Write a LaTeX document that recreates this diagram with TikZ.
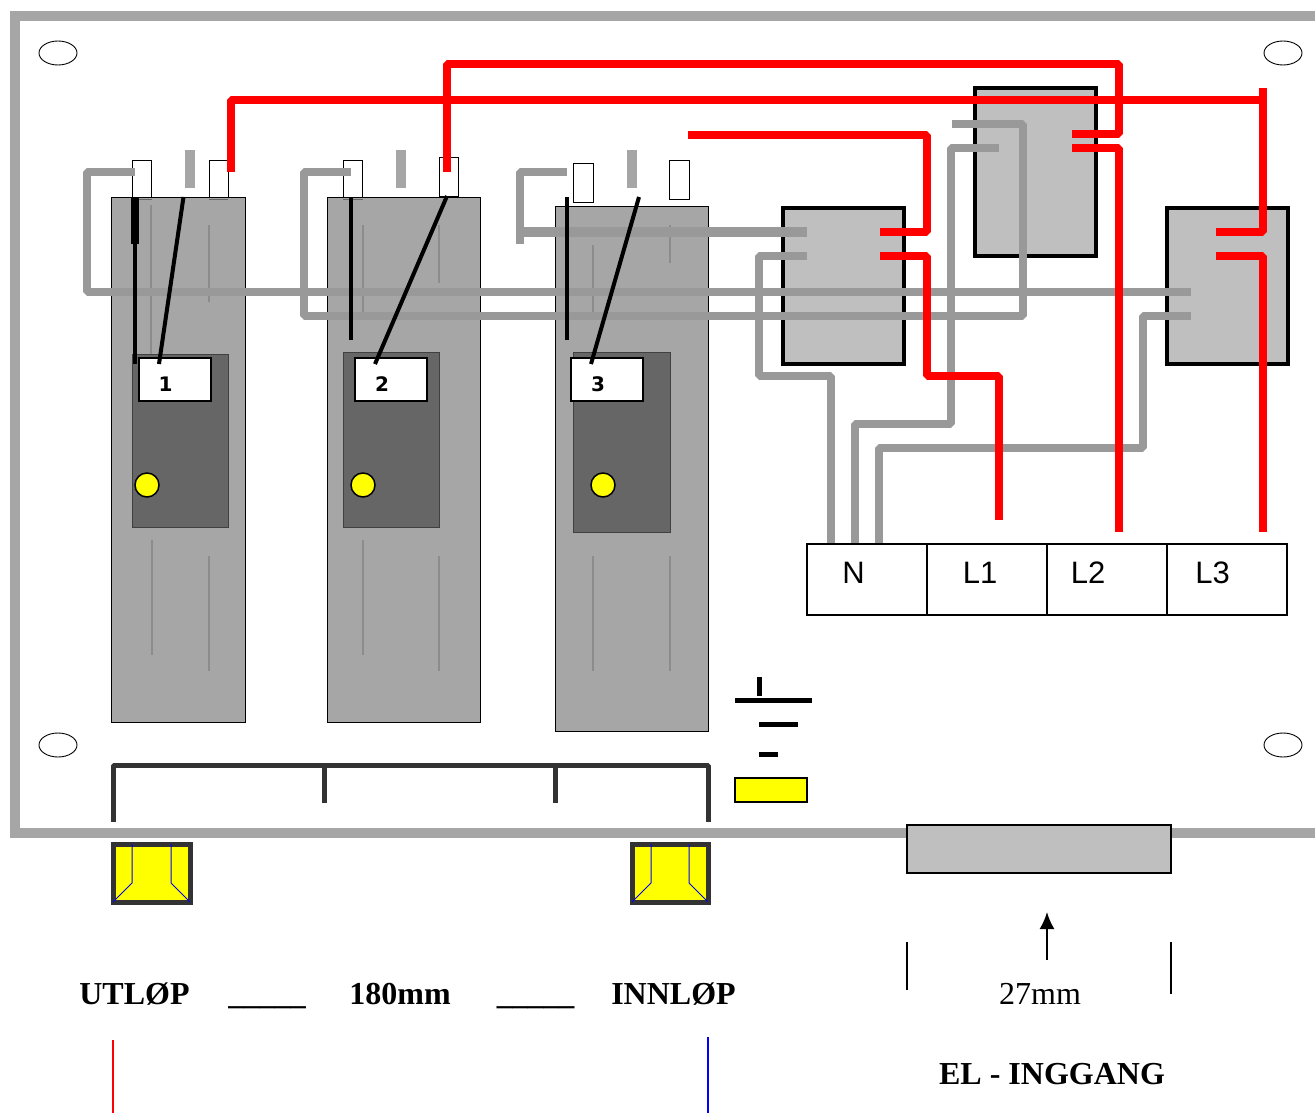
\documentclass[tikz,border=0pt]{standalone}
\usepackage{fontspec}
\setmainfont{Liberation Serif}
\newfontfamily\arialf{Liberation Sans}
\newfontfamily\numf{DejaVu Sans}
\usetikzlibrary{arrows.meta,shapes.geometric}
\definecolor{modgray}{HTML}{A6A6A6}
\definecolor{wiregray}{HTML}{999999}
\definecolor{darkmod}{HTML}{666666}
\definecolor{boxgray}{HTML}{BFBFBF}
\definecolor{framegray}{HTML}{A6A6A6}
\definecolor{darkline}{HTML}{333333}
\definecolor{pureyellow}{HTML}{FFFF00}
\definecolor{purered}{HTML}{FF0000}
\definecolor{pureblue}{HTML}{0000FF}
\tikzset{
  x=1pt,y=-1pt,
  every node/.style={inner sep=0pt,outer sep=0pt},
  framebox/.style={draw=framegray,line width=10pt},
  hole/.style={draw=black,line width=0.9pt,fill=white,ellipse,minimum width=38pt,minimum height=24pt},
  module/.style={draw=black,line width=0.8pt,fill=modgray},
  darkbox/.style={draw=black!75,line width=0.8pt,fill=darkmod},
  labelbox/.style={draw=black,line width=1.6pt,fill=white},
  term/.style={draw=black,line width=0.9pt,fill=white},
  stub/.style={draw=modgray,line width=10pt},
  thin wire/.style={draw=black!45,line width=2.6pt},
  wire/.style={draw=wiregray,line width=8pt,line join=bevel},
  redwire/.style={draw=purered,line width=8pt,line join=bevel},
  blackwire/.style={draw=black,line width=4pt},
  ctrlb/.style={draw=black,line width=3.6pt,fill=boxgray},
  tbl/.style={draw=black,line width=1.5pt,fill=white},
  bracket/.style={draw=darkline,line width=5pt,line join=bevel},
  yelbox/.style={draw=darkline,line width=5pt,fill=pureyellow},
  blueln/.style={draw=pureblue,line width=1pt},
  gnd/.style={draw=black,line width=5pt},
  bold lbl/.style={font=\fontsize{32}{32}\selectfont\bfseries,anchor=base},
  reg lbl/.style={font=\fontsize{32}{32}\selectfont,anchor=base},
  arial lbl/.style={font=\arialf\fontsize{31}{31}\selectfont,anchor=base},
  num lbl/.style={font=\numf\fontsize{20}{20}\selectfont\bfseries,anchor=base},
  dot/.style={circle,draw=black,line width=1.5pt,fill=pureyellow,minimum size=24pt}
}
\newcommand{\rbox}[6]{\path[#6] (#2,#3) rectangle (#4,#5); \coordinate (#1) at ({(#2+#4)/2},{(#3+#5)/2});}
\begin{document}
\begin{tikzpicture}
\useasboundingbox (0,0) rectangle (1315,1113);
% frame
\path[framebox] (1330,16) -- (15,16) -- (15,833) -- (1330,833);
\node[hole] (h1) at (58,53) {};
\node[hole] (h2) at (1283,53) {};
\node[hole] (h3) at (58,745) {};
\node[hole] (h4) at (1283,745) {};
% terminals
\rbox{t1a}{132}{160}{151.5}{199}{term}
\rbox{t1c}{209}{160}{228}{199}{term}
\rbox{t2a}{343}{160}{362.5}{199}{term}
\rbox{t2c}{439}{157}{458.5}{196}{term}
\rbox{t3a}{573.5}{163}{593}{202}{term}
\rbox{t3c}{669.5}{160}{689}{199}{term}
% modules
\rbox{m1}{111}{197}{245}{722}{module}
\rbox{m2}{327}{197}{480}{722}{module}
\rbox{m3}{555}{206}{708}{731}{module}
% terminal edges showing through the module tops
\path[draw=black!60,line width=0.9pt] (132,199) -- (151.5,199);
\path[draw=black!60,line width=0.9pt] (209,199) -- (228,199);
\path[draw=black!60,line width=0.9pt] (343,199) -- (362.5,199);
% stubs
\path[stub] (190,150) -- (190,188);
\path[stub] (401,150) -- (401,188);
\path[stub] (632,150) -- (632,188);
% light lines
\path[thin wire] (151,205) -- (151,356);
\path[thin wire] (209,225) -- (209,302);
\path[thin wire] (363,225) -- (363,320);
\path[thin wire] (439,225) -- (439,283);
\path[thin wire] (593,245) -- (593,320);
\path[thin wire] (670,225) -- (670,263);
\path[thin wire] (152,540) -- (152,655);
\path[thin wire] (209,556) -- (209,671);
\path[thin wire] (363,540) -- (363,655);
\path[thin wire] (439,556) -- (439,671);
\path[thin wire] (593,556) -- (593,671);
\path[thin wire] (670,556) -- (670,671);
% dark panels
\rbox{d1}{132}{354}{228}{527}{darkbox}
\rbox{d2}{343}{352}{439}{527}{darkbox}
\rbox{d3}{573}{352}{670}{532}{darkbox}
% control boxes
\rbox{k1}{783}{208}{904}{364}{ctrlb}
\rbox{k2}{975}{88}{1096}{256}{ctrlb}
\rbox{k3}{1167}{208}{1288}{364}{ctrlb}
% table
\rbox{cN}{807}{544}{927}{615}{tbl}
\rbox{cL1}{927}{544}{1047}{615}{tbl}
\rbox{cL2}{1047}{544}{1167}{615}{tbl}
\rbox{cL3}{1167}{544}{1287}{615}{tbl}
\node[arial lbl] (lN) at (853.5,583) {N};
\node[arial lbl] (lL1) at (980,583) {L1};
\node[arial lbl] (lL2) at (1088,583) {L2};
\node[arial lbl] (lL3) at (1212.5,583) {L3};
% grey wires
\coordinate (g1) at (135,172);
\coordinate (g2) at (351,172);
\coordinate (g3) at (567,172);
\coordinate (n1) at (831,543);
\coordinate (n2) at (855,543);
\coordinate (n3) at (879,543);
\path[wire] (g1) -- (87,172) -- (87,292) -- (1191,292);
\path[wire] (g2) -- (304,172) -- (304,316) -- (1023,316) -- (1023,124) -- (952,124);
\path[wire] (g3) -- (520,172) -- (520,244);
\path[wire,line width=10pt] (520,232) -- (807,232);
\path[wire] (807,256) -- (759,256) -- (759,376) -- (831,376) -- (n1);
\path[wire] (n2) -- (855,424) -- (951,424) -- (951,148) -- (999,148);
\path[wire] (n3) -- (879,448) -- (1143,448) -- (1143,316) -- (1191,316);
% red wires
\coordinate (r1) at (231,172);
\coordinate (r2) at (447,172);
\path[redwire] (r1) -- (231,100) -- (1263,100);
\path[redwire] (1263,88) -- (1263,232) -- (1216,232);
\path[redwire] (1216,256) -- (1263,256) -- (1263,532);
\path[redwire] (r2) -- (447,64) -- (1119,64) -- (1119,134) -- (1072,134);
\path[redwire] (1072,148) -- (1119,148) -- (1119,532);
\path[redwire] (688,135) -- (927,135) -- (927,232) -- (880,232);
\path[redwire] (880,256) -- (927,256) -- (927,376) -- (999,376) -- (999,520);
% labels and dots
\rbox{b1}{139}{358}{211}{401}{labelbox}
\rbox{b2}{355}{358}{427}{401}{labelbox}
\rbox{b3}{571}{358}{643}{401}{labelbox}
\node[num lbl] (n1t) at (165.5,391) {1};
\node[num lbl] (n2t) at (382,391) {2};
\node[num lbl] (n3t) at (598,391) {3};
\node[dot] (y1) at (147,485) {};
\node[dot] (y2) at (363,485) {};
\node[dot] (y3) at (603,485) {};
% black wires
\path[draw=black,line width=7.5pt] (135,197) -- (135,244);
\path[blackwire] (135,197) -- (135,364);
\path[blackwire] (183.5,197) -- (159,364);
\path[blackwire] (351,197) -- (351,340);
\path[blackwire] (447,196) -- (375,364);
\path[blackwire] (567,197) -- (567,340);
\path[blackwire] (639,197) -- (591,364);
% bracket
\path[bracket] (113,822) -- (113,765) -- (708,765) -- (708,822);
\path[bracket] (324,765) -- (324,803);
\path[bracket] (555,765) -- (555,803);
% ground
\path[gnd] (759,677) -- (759,696);
\path[gnd] (735,700) -- (812,700);
\path[gnd] (759,724) -- (798,724);
\path[gnd] (759,754) -- (778,754);
\rbox{yel}{735}{778}{807}{802}{draw=black,line width=2pt,fill=pureyellow}
% pipes
\rbox{p1}{113}{844}{190}{902}{yelbox}
\rbox{p2}{632}{844}{708.5}{902}{yelbox}
\path[blueln] (132,844) -- (132,883) -- (113,902);
\path[blueln] (171,844) -- (171,883) -- (190,902);
\path[blueln] (651,844) -- (651,883) -- (632,902);
\path[blueln] (689,844) -- (689,883) -- (708,902);
% inlet
\rbox{inl}{907}{825}{1171}{873}{draw=black,line width=2pt,fill=boxgray}
\coordinate (a1) at (1047,960);
\coordinate (a2) at (1047,912);
\draw[line width=2pt,-{Latex[length=17pt,width=15pt]}] (a1) -- (a2);
\draw[line width=1.5pt] (907,942) -- (907,990);
\draw[line width=1.5pt] (1171,942) -- (1171,994);
% texts
\node[bold lbl] (u) at (134.5,1004) {UTLØP};
\node[bold lbl,font=\fontsize{31}{31}\selectfont\bfseries] (d1t) at (267,1004) {\_\_\_\_\_};
\node[bold lbl] (mm) at (400,1004) {180mm};
\node[bold lbl,font=\fontsize{31}{31}\selectfont\bfseries] (d2t) at (535.5,1004) {\_\_\_\_\_};
\node[bold lbl] (i) at (673.5,1004) {INNLØP};
\node[reg lbl] (w) at (1040,1004) {27mm};
\node[bold lbl] (e) at (1052,1084) {EL - INGGANG};
\draw[purered,line width=1.3pt] (113,1040) -- (113,1113);
\draw[pureblue,line width=1.3pt] (708,1037) -- (708,1113);
\end{tikzpicture}
\end{document}
